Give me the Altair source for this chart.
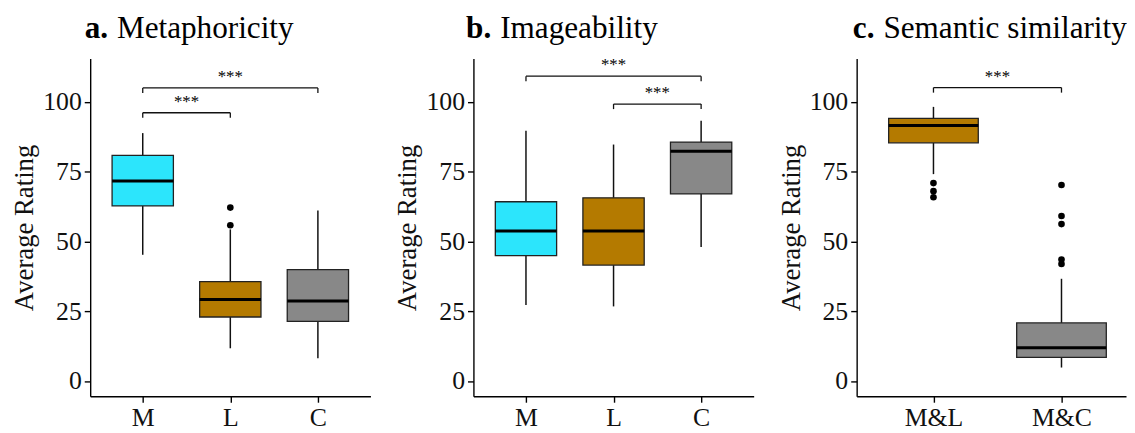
import json
import altair as alt
import pandas as pd

FONT = "Liberation Serif"
CYAN = "#2CE5FC"
BROWN = "#B47A00"
GRAY = "#888888"

# ---- Panel a: Metaphoricity ----
a_cats = ["M", "L", "C"]
a_fill = [CYAN, BROWN, GRAY]
a_wlo = [45.2, 11.7, 8.1]
a_q1 = [62.7, 22.9, 21.3]
a_med = [71.6, 29.2, 28.6]
a_q3 = [80.8, 35.6, 39.9]
a_whi = [88.8, 54.3, 61.1]
a_out_cat = ["L", "L"]
a_out_val = [62.1, 55.8]
a_br_from = ["M", "M"]
a_br_to = ["L", "C"]
a_br_y = [96.1, 105.0]
a_br_lab = ["***", "***"]

# ---- Panel b: Imageability ----
b_cats = ["M", "L", "C"]
b_fill = [CYAN, BROWN, GRAY]
b_wlo = [27.2, 26.7, 48.0]
b_q1 = [44.9, 41.5, 67.0]
b_med = [53.7, 53.7, 82.3]
b_q3 = [64.2, 65.6, 85.6]
b_whi = [89.6, 84.7, 93.2]
b_out_cat = []
b_out_val = []
b_br_from = ["M", "L"]
b_br_to = ["C", "C"]
b_br_y = [109.2, 99.2]
b_br_lab = ["***", "***"]

# ---- Panel c: Semantic similarity ----
c_cats = ["M&L", "M&C"]
c_fill = [BROWN, GRAY]
c_wlo = [74.1, 4.8]
c_q1 = [85.3, 8.4]
c_med = [91.5, 11.9]
c_q3 = [94.1, 20.8]
c_whi = [98.2, 36.6]
c_out_cat = ["M&L", "M&L", "M&L", "M&C", "M&C", "M&C", "M&C", "M&C"]
c_out_val = [70.9, 68.0, 65.8, 70.2, 59.1, 56.2, 43.5, 41.9]
c_br_from = ["M&L"]
c_br_to = ["M&C"]
c_br_y = [105.1]
c_br_lab = ["***"]

Y_TICKS = [0, 25, 50, 75, 100]
Y_DOMAIN = [-5.5, 115.5]
HALF = 0.35
TIP = 1.8
HEIGHT = 341
TITLE_SIZE = 31.5


def make_panel(cats, fills, wlo, q1, med, q3, whi, out_cat, out_val,
               br_from, br_to, br_y, br_lab, letter, name, width, xmax):
    idx = {c: i + 1 for i, c in enumerate(cats)}
    n = len(cats)
    xs = alt.Scale(domain=[0.4, xmax], nice=False, zero=False)
    ys = alt.Scale(domain=Y_DOMAIN, nice=False, zero=False)
    xax = alt.Axis(values=list(range(1, n + 1)),
                   labelExpr=json.dumps(cats) + "[datum.value - 1]",
                   title=None, labelPadding=3, labelAngle=0)
    yax = alt.Axis(values=Y_TICKS, title="Average Rating",
                   titlePadding=4, labelPadding=3)

    box = pd.DataFrame({
        "cat": cats,
        "pos": [idx[c] for c in cats],
        "lo": [idx[c] - HALF for c in cats],
        "hi": [idx[c] + HALF for c in cats],
        "wlo": wlo, "q1": q1, "med": med, "q3": q3, "whi": whi,
        "fill": fills,
    })

    X = lambda f: alt.X(f, scale=xs, axis=xax)
    Y = lambda f: alt.Y(f, scale=ys, axis=yax)

    lower = alt.Chart(box).mark_rule(color="#111", strokeWidth=1.5).encode(
        x=X("pos:Q"), y=Y("wlo:Q"), y2="q1:Q")
    upper = alt.Chart(box).mark_rule(color="#111", strokeWidth=1.5).encode(
        x=X("pos:Q"), y=Y("q3:Q"), y2="whi:Q")
    rect = alt.Chart(box).mark_rect(stroke="#222", strokeWidth=1.3).encode(
        x=X("lo:Q"), x2="hi:Q", y=Y("q1:Q"), y2="q3:Q",
        fill=alt.Fill("fill:N", scale=None))
    median = alt.Chart(box).mark_rule(color="#000", strokeWidth=3).encode(
        x=X("lo:Q"), x2="hi:Q", y=Y("med:Q"))

    layers = [lower, upper, rect, median]

    if out_val:
        outs = pd.DataFrame({"pos": [idx[c] for c in out_cat], "val": out_val})
        layers.append(alt.Chart(outs).mark_circle(color="#000", opacity=1, size=45).encode(
            x=X("pos:Q"), y=Y("val:Q")))

    segs = {"x": [], "x2": [], "y": [], "y2": []}
    mids = {"mid": [], "y": [], "lab": []}
    for f, t, yv, lab in zip(br_from, br_to, br_y, br_lab):
        x1, x2 = idx[f], idx[t]
        for sx, sx2, sy, sy2 in [(x1, x2, yv, yv), (x1, x1, yv, yv - TIP), (x2, x2, yv, yv - TIP)]:
            segs["x"].append(sx); segs["x2"].append(sx2)
            segs["y"].append(sy); segs["y2"].append(sy2)
        mids["mid"].append((x1 + x2) / 2)
        mids["y"].append(yv)
        mids["lab"].append(lab)

    layers.append(alt.Chart(pd.DataFrame(segs)).mark_rule(color="#111", strokeWidth=1.3).encode(
        x=X("x:Q"), x2="x2:Q", y=Y("y:Q"), y2="y2:Q"))
    layers.append(alt.Chart(pd.DataFrame(mids)).mark_text(
        font=FONT, fontSize=17, baseline="alphabetic", dy=-6, color="#000").encode(
        x=X("mid:Q"), y=Y("y:Q"), text="lab:N"))

    t1 = alt.Chart(pd.DataFrame({"t": [letter]})).mark_text(
        font=FONT, fontSize=TITLE_SIZE, fontWeight="bold", align="right",
        baseline="alphabetic", color="#000").encode(
        x=alt.value(18), y=alt.value(-21), text="t:N")
    t2 = alt.Chart(pd.DataFrame({"t": [name]})).mark_text(
        font=FONT, fontSize=TITLE_SIZE, align="left",
        baseline="alphabetic", color="#000").encode(
        x=alt.value(27), y=alt.value(-21), text="t:N")
    layers += [t1, t2]

    return alt.layer(*layers).properties(width=width, height=HEIGHT)


pa = make_panel(a_cats, a_fill, a_wlo, a_q1, a_med, a_q3, a_whi, a_out_cat, a_out_val,
                a_br_from, a_br_to, a_br_y, a_br_lab, "a.", "Metaphoricity", 283, 3.6)
pb = make_panel(b_cats, b_fill, b_wlo, b_q1, b_med, b_q3, b_whi, b_out_cat, b_out_val,
                b_br_from, b_br_to, b_br_y, b_br_lab, "b.", "Imageability", 283, 3.6)
pc = make_panel(c_cats, c_fill, c_wlo, c_q1, c_med, c_q3, c_whi, c_out_cat, c_out_val,
                c_br_from, c_br_to, c_br_y, c_br_lab, "c.", "Semantic similarity", 272, 2.504)

chart = alt.hconcat(pa, pb, pc, spacing=24).properties(
    padding={"left": 3, "top": 3, "right": 0, "bottom": 0},
    background="white",
).configure_view(stroke=None).configure_axis(
    domainColor="#000", domainWidth=1.4, tickColor="#000", tickWidth=1.4, tickSize=6,
    labelFont=FONT, labelFontSize=26, labelColor="#111",
    titleFont=FONT, titleFontSize=27, titleFontWeight="normal", titleColor="#111",
    grid=False,
)

chart.save("out.html", embed_options={"renderer": "svg", "actions": False})
